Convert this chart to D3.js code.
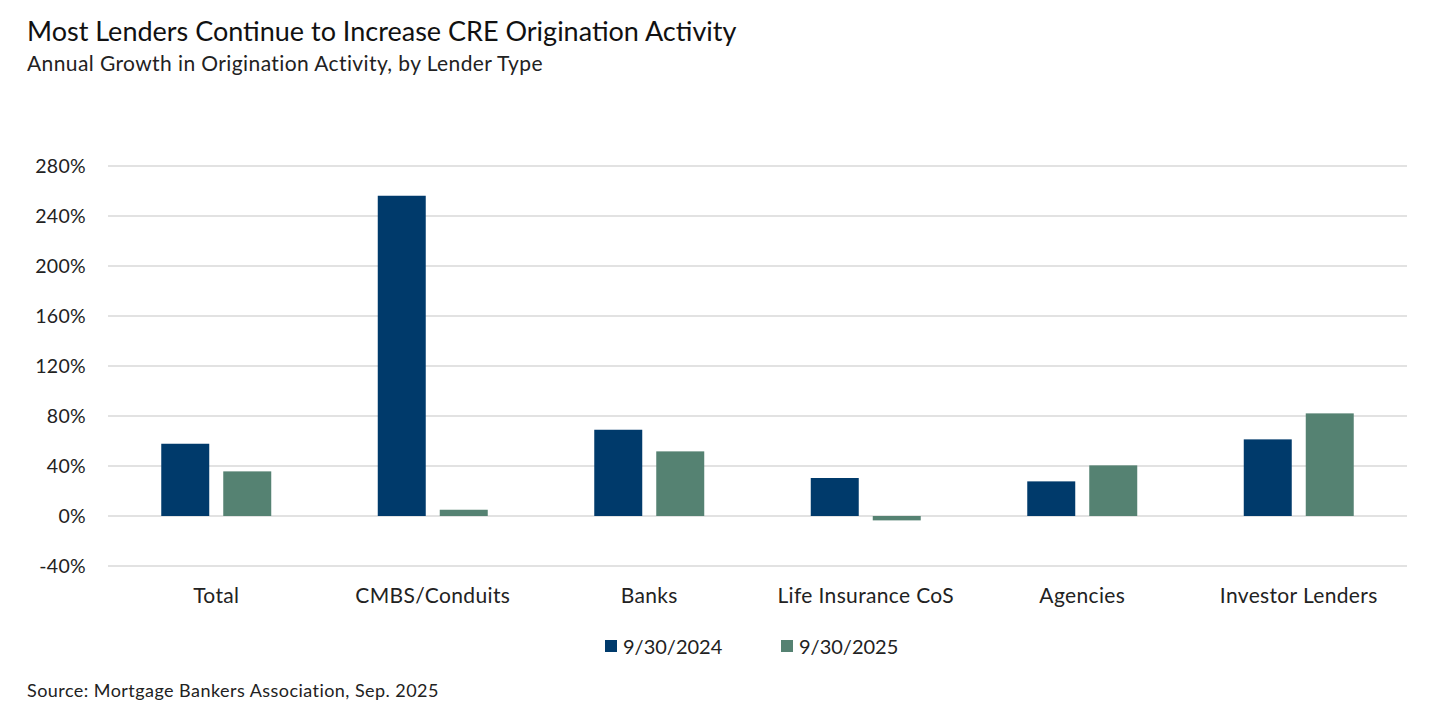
<!DOCTYPE html>
<html>
<head>
<meta charset="utf-8">
<script src="https://cdn.jsdelivr.net/npm/d3@7"></script>
<style>
  body { margin: 0; background: #fff; }
  svg { font-family: Lato, "Noto Sans", sans-serif; }
</style>
</head>
<body>
<svg id="chart" width="1447" height="727"></svg>
<script>
// chart values
var categories = ['Total', 'CMBS/Conduits', 'Banks', 'Life Insurance CoS', 'Agencies', 'Investor Lenders'];
var seriesNames = ['9/30/2024', '9/30/2025'];
var values2024 = [57.8, 256.2, 69.0, 30.4, 27.7, 61.3];
var values2025 = [35.7, 5.0, 51.7, -3.5, 40.5, 82.1];
var yTicks = [-40, 0, 40, 80, 120, 160, 200, 240, 280];
var colors = ['#003a6b', '#558272'];

var svg = d3.select('#chart');
var margin = {left: 108, right: 40, top: 166, bottom: 161};
var width = 1447 - margin.left - margin.right;
var height = 727 - margin.top - margin.bottom;

var g = svg.append('g').attr('transform', 'translate(' + margin.left + ',' + margin.top + ')');

var x0 = d3.scaleBand().domain(categories).range([0, width]).paddingInner(0.492).paddingOuter(0.246);
var x1 = d3.scaleBand().domain(seriesNames).range([0, x0.bandwidth()]).paddingInner(0.226);
var y = d3.scaleLinear().domain([-40, 280]).range([height, 0]);

// gridlines
g.selectAll('line.grid')
    .data(yTicks)
  .enter().append('line')
    .attr('class', 'grid')
    .attr('x1', 0)
    .attr('x2', width)
    .attr('y1', function(d) { return y(d); })
    .attr('y2', function(d) { return y(d); })
    .attr('stroke', '#d9d9d9')
    .attr('stroke-width', 1.3);

// y axis labels
var yAxis = d3.axisLeft(y).tickValues(yTicks).tickFormat(function(d) { return d + '%'; }).tickSize(0).tickPadding(22);
var ya = g.append('g').call(yAxis);
ya.select('.domain').remove();
ya.selectAll('text').attr('font-size', 19.5).attr('fill', '#222').attr('font-family', 'Lato, sans-serif')
    .attr('letter-spacing', 0.3);

// bars
var rows = categories.map(function(c, i) {
  return {cat: c, vals: [values2024[i], values2025[i]]};
});

var groups = g.selectAll('g.cat')
    .data(rows)
  .enter().append('g')
    .attr('class', 'cat')
    .attr('transform', function(d) { return 'translate(' + x0(d.cat) + ',0)'; });

groups.selectAll('rect')
    .data(function(d) { return d.vals.map(function(v, j) { return {s: seriesNames[j], v: v, j: j}; }); })
  .enter().append('rect')
    .attr('x', function(d) { return x1(d.s); })
    .attr('width', x1.bandwidth())
    .attr('y', function(d) { return y(Math.max(0, d.v)); })
    .attr('height', function(d) { return Math.abs(y(d.v) - y(0)); })
    .attr('fill', function(d) { return colors[d.j]; });

// category labels
var xAxis = d3.axisBottom(x0).tickSize(0).tickPadding(0);
var xa = g.append('g').attr('transform', 'translate(0,' + (height + 22) + ')').call(xAxis);
xa.select('.domain').remove();
xa.selectAll('text').attr('font-size', 21).attr('fill', '#222').attr('font-family', 'Lato, sans-serif')
    .attr('letter-spacing', 0.35);

// legend
var legend = svg.append('g').attr('transform', 'translate(605,647)');
var legendX = [0, 176];
seriesNames.forEach(function(s, i) {
  var lg = legend.append('g').attr('transform', 'translate(' + legendX[i] + ',0)');
  lg.append('rect').attr('x', 0).attr('y', -7).attr('width', 12).attr('height', 12).attr('fill', colors[i]);
  lg.append('text').attr('x', 18).attr('y', 7).attr('font-size', 20).attr('fill', '#222').text(s);
});

// titles
svg.append('text').attr('x', 27).attr('y', 41).attr('font-size', 27).attr('fill', '#111')
    .text('Most Lenders Continue to Increase CRE Origination Activity');
svg.append('text').attr('x', 27).attr('y', 71).attr('font-size', 21).attr('fill', '#222')
    .attr('letter-spacing', 0.4)
    .text('Annual Growth in Origination Activity, by Lender Type');
svg.append('text').attr('x', 27).attr('y', 697).attr('font-size', 18).attr('fill', '#222')
    .attr('letter-spacing', 0.45)
    .text('Source: Mortgage Bankers Association, Sep. 2025');
</script>
</body>
</html>
